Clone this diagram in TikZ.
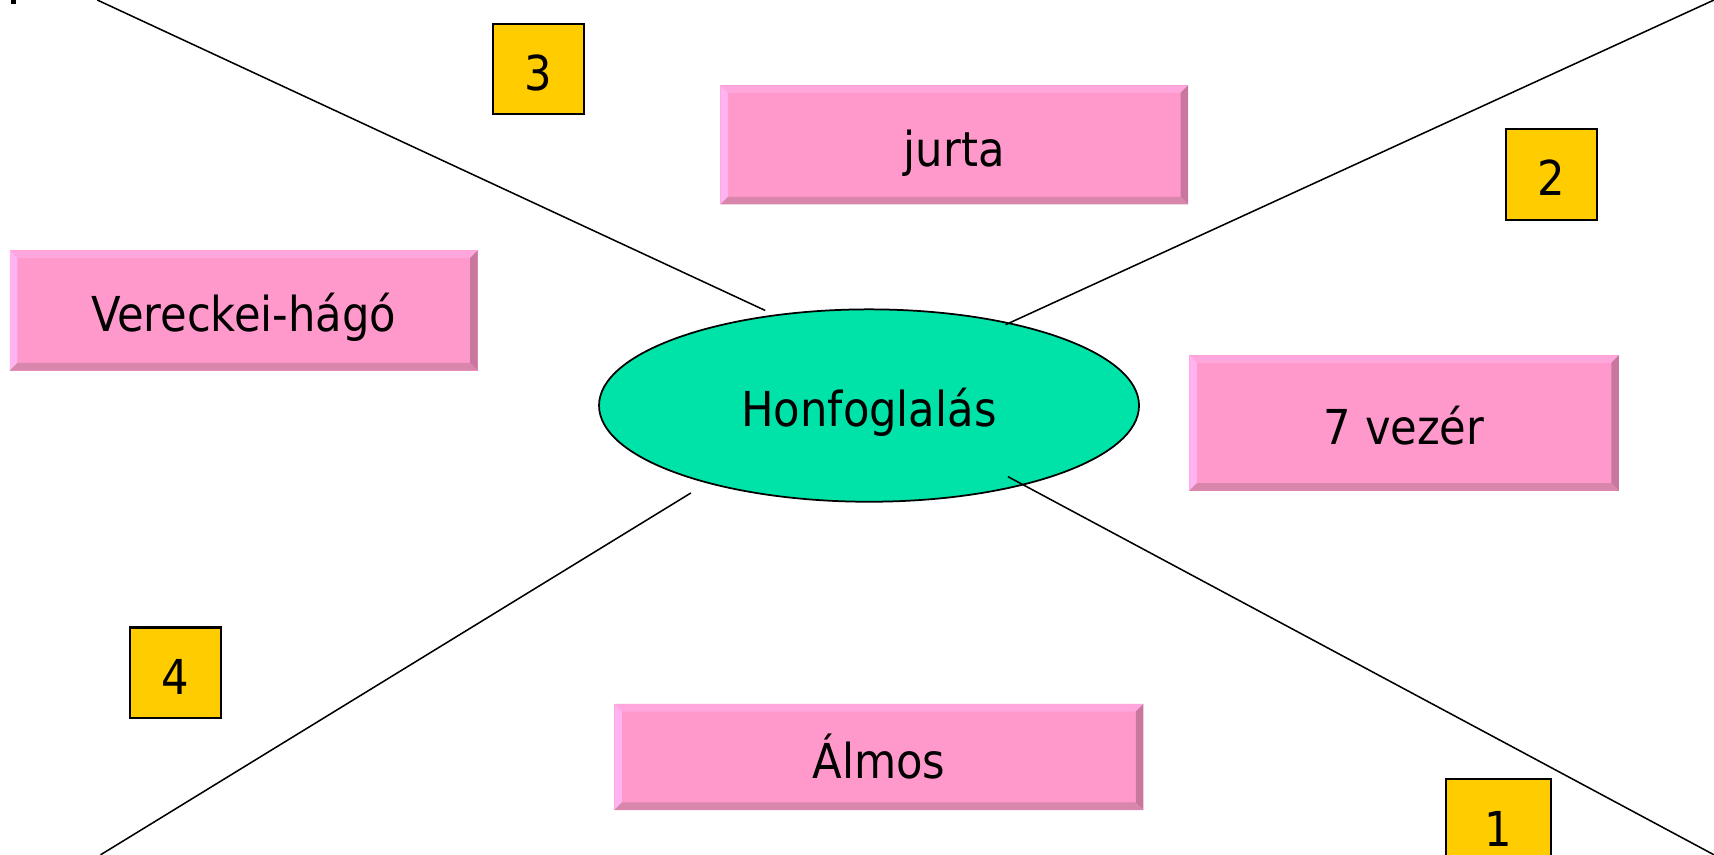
\documentclass[tikz,border=0pt]{standalone}
\usepackage{fontspec}
\setmainfont{DejaVu Sans Condensed}
\definecolor{pinkmain}{HTML}{FF99CC}
\definecolor{pinktop}{HTML}{FFA6DC}
\definecolor{pinkleft}{HTML}{FFB3F0}
\definecolor{pinkright}{HTML}{C8789F}
\definecolor{pinkbottom}{HTML}{D886AC}
\definecolor{ovalgreen}{HTML}{00E3A8}
\definecolor{tagyellow}{HTML}{FFCC00}
\tikzset{
  labeltext/.style={font=\fontsize{44}{50}\selectfont, text height=39pt, text depth=0pt},
  bevelbox/.style={rectangle, fill=pinkmain, inner sep=0pt, labeltext,
    path picture={
      \coordinate (pnw) at (path picture bounding box.north west);
      \coordinate (pne) at (path picture bounding box.north east);
      \coordinate (psw) at (path picture bounding box.south west);
      \coordinate (pse) at (path picture bounding box.south east);
      \fill[pinktop] (pnw) -- (pne) -- ([shift={(-7pt,-7pt)}]pne) -- ([shift={(7pt,-7pt)}]pnw) -- cycle;
      \fill[pinkleft] (pnw) -- ([shift={(7pt,-7pt)}]pnw) -- ([shift={(7pt,7pt)}]psw) -- (psw) -- cycle;
      \fill[pinkright] (pne) -- ([shift={(-7pt,-7pt)}]pne) -- ([shift={(-7pt,7pt)}]pse) -- (pse) -- cycle;
      \fill[pinkbottom] (psw) -- ([shift={(7pt,7pt)}]psw) -- ([shift={(-7pt,7pt)}]pse) -- (pse) -- cycle;
    }},
  tagbox/.style={rectangle, fill=tagyellow, draw=black, line width=2pt, inner sep=0pt, labeltext},
  oval/.style={ellipse, fill=ovalgreen, draw=black, line width=1.6pt, inner sep=0pt, labeltext},
  spoke/.style={draw=black, line width=1.4pt}
}
\usetikzlibrary{shapes.geometric}
\begin{document}
\begin{tikzpicture}[x=1pt,y=-1pt]
\useasboundingbox[fill=white] (0,0) rectangle (1568,782);
\fill[black] (10,0) rectangle (15,4);
% central ellipse
\node[oval, minimum width=494pt, minimum height=176pt] (center) at (795,371) {Honfoglalás};
% spokes
\coordinate (s1a) at (89,0);    \coordinate (s1b) at (700,284);
\coordinate (s2a) at (920,297); \coordinate (s2b) at (1568,0);
\coordinate (s3a) at (632,451); \coordinate (s3b) at (92,782);
\coordinate (s4a) at (922,436); \coordinate (s4b) at (1568,782);
\draw[spoke] (s1a) -- (s1b);
\draw[spoke] (s2a) -- (s2b);
\draw[spoke] (s3a) -- (s3b);
\draw[spoke] (s4a) -- (s4b);
% pink boxes
\node[bevelbox, minimum width=428pt, minimum height=109pt] (jurta) at (873,132.5) {jurta};
\node[bevelbox, minimum width=428pt, minimum height=110pt] (vereckei) at (223,284) {Vereckei-hágó};
\node[bevelbox, minimum width=393pt, minimum height=124pt] (vezer) at (1284.5,387) {7 vezér};
\node[bevelbox, minimum width=484pt, minimum height=97pt] (almos) at (804,692.5) {Álmos};
% yellow tags
\node[tagbox, minimum width=83pt, minimum height=82pt] (t3) at (492.5,63) {3};
\node[tagbox, minimum width=83pt, minimum height=83pt] (t2) at (1419.5,159.5) {2};
\node[tagbox, minimum width=83pt, minimum height=83pt] (t4) at (160.5,615.5) {4};
\node[tagbox, minimum width=96pt, minimum height=83pt] (t1) at (1371,754.5) {1};
\end{tikzpicture}
\end{document}
